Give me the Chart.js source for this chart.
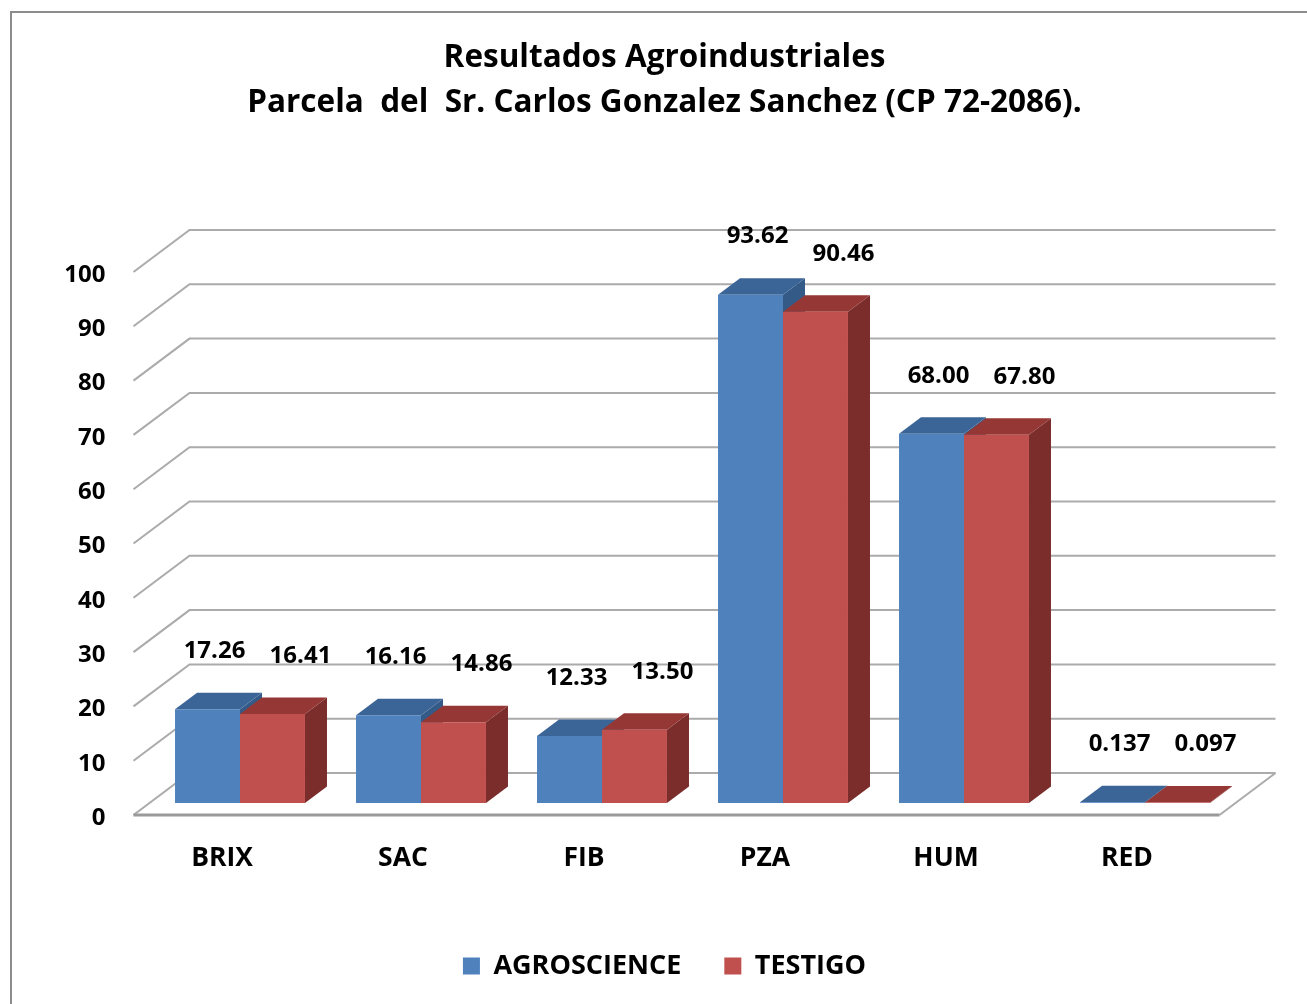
<!DOCTYPE html>
<html><head><meta charset="utf-8">
<script src="https://cdn.jsdelivr.net/npm/chart.js@4"></script>
<style>html,body{margin:0;padding:0;background:#fff;overflow:hidden}canvas{display:block}</style>
</head><body>
<canvas id="c" width="1307" height="1004" style="width:1307px;height:1004px"></canvas>
<script>
const categories = ['BRIX', 'SAC', 'FIB', 'PZA', 'HUM', 'RED'];
const agroscience = [17.26, 16.16, 12.33, 93.62, 68.00, 0.137];
const testigo = [16.41, 14.86, 13.50, 90.46, 67.80, 0.097];
const seriesNames = ['AGROSCIENCE', 'TESTIGO'];
const yTicks = [0, 10, 20, 30, 40, 50, 60, 70, 80, 90, 100];
const titleLines = ['Resultados Agroindustriales', 'Parcela  del  Sr. Carlos Gonzalez Sanchez (CP 72-2086).'];

const FONT = '"Open Sans", Lato, sans-serif';
const BAR_SHIFT = {x: 16, y: -12};
const BAR_DEPTH = {x: 22, y: -16.5};
const WALL = {x: 56, y: -42};
const faceColors = [{top: '#3C6597', side: '#345A88'}, {top: '#953735', side: '#7A2D2B'}];
const labelDx = [7, 28];
const labelRise = 58;

const frame = {
  id: 'frame',
  beforeDraw(chart) {
    const c = chart.ctx;
    c.save();
    c.fillStyle = '#fff';
    c.fillRect(0, 0, chart.width, chart.height);
    c.strokeStyle = '#8c8c8c';
    c.lineWidth = 2;
    c.beginPath();
    c.moveTo(11, chart.height + 5);
    c.lineTo(11, 12);
    c.lineTo(chart.width + 5, 12);
    c.stroke();
    c.restore();
  }
};

const wall3d = {
  id: 'wall3d',
  beforeDatasetsDraw(chart) {
    const ctx = chart.ctx, a = chart.chartArea, y = chart.scales.y;
    ctx.save();
    ctx.strokeStyle = '#ababab';
    ctx.lineWidth = 2;
    y.ticks.forEach(t => {
      const py = y.getPixelForValue(t.value);
      ctx.beginPath();
      ctx.moveTo(a.left, py);
      ctx.lineTo(a.left + WALL.x, py + WALL.y);
      ctx.lineTo(a.right + WALL.x, py + WALL.y);
      ctx.stroke();
    });
    const p0 = y.getPixelForValue(0);
    ctx.beginPath();
    ctx.moveTo(a.right, p0);
    ctx.lineTo(a.right + WALL.x, p0 + WALL.y);
    ctx.stroke();
    ctx.strokeStyle = '#9a9a9a';
    ctx.lineWidth = 3;
    ctx.beginPath();
    ctx.moveTo(a.left, p0);
    ctx.lineTo(a.right, p0);
    ctx.stroke();
    ctx.restore();

    ctx.save();
    ctx.translate(BAR_SHIFT.x, BAR_SHIFT.y);
    chart.data.datasets.forEach((ds, i) => {
      chart.getDatasetMeta(i).data.forEach(bar => {
        const p = bar.getProps(['x', 'y', 'base', 'width'], true);
        const l = p.x - p.width / 2, r = p.x + p.width / 2, top = p.y, base = p.base;
        ctx.fillStyle = faceColors[i].side;
        ctx.beginPath();
        ctx.moveTo(r, top);
        ctx.lineTo(r + BAR_DEPTH.x, top + BAR_DEPTH.y);
        ctx.lineTo(r + BAR_DEPTH.x, base + BAR_DEPTH.y);
        ctx.lineTo(r, base);
        ctx.closePath();
        ctx.fill();
        ctx.fillStyle = faceColors[i].top;
        ctx.beginPath();
        ctx.moveTo(l, top);
        ctx.lineTo(r, top);
        ctx.lineTo(r + BAR_DEPTH.x, top + BAR_DEPTH.y);
        ctx.lineTo(l + BAR_DEPTH.x, top + BAR_DEPTH.y);
        ctx.closePath();
        ctx.fill();
      });
    });
  },
  afterDatasetsDraw(chart) {
    const ctx = chart.ctx;
    ctx.restore();
    ctx.save();
    ctx.font = 'bold 24px ' + FONT;
    ctx.fillStyle = '#000';
    ctx.textAlign = 'center';
    ctx.textBaseline = 'middle';
    chart.data.datasets.forEach((ds, i) => {
      chart.getDatasetMeta(i).data.forEach((bar, j) => {
        const v = ds.data[j];
        const txt = v < 1 ? v.toFixed(3) : v.toFixed(2);
        ctx.fillText(txt, bar.x + BAR_SHIFT.x + labelDx[i], bar.y + BAR_SHIFT.y - labelRise);
      });
    });
    ctx.restore();
  }
};

new Chart(document.getElementById('c'), {
  type: 'bar',
  data: {
    labels: categories,
    datasets: [
      {label: seriesNames[0], data: agroscience, backgroundColor: '#4F81BD', borderWidth: 0},
      {label: seriesNames[1], data: testigo, backgroundColor: '#C0504D', borderWidth: 0}
    ]
  },
  options: {
    responsive: false,
    animation: false,
    devicePixelRatio: 1,
    layout: {padding: {left: 22, right: 0, top: 0, bottom: 14.5}},
    datasets: {bar: {categoryPercentage: 0.718, barPercentage: 1, clip: false}},
    scales: {
      x: {
        grid: {display: false, drawTicks: false},
        border: {display: false},
        ticks: {color: '#000', font: {family: FONT, size: 26.5, weight: 'bold'}, padding: 28, labelOffset: -2},
        afterFit(s) { s.height = 94.5; }
      },
      y: {
        min: 0, max: 100,
        grid: {display: false, drawTicks: false},
        border: {display: false},
        ticks: {color: '#000', font: {family: FONT, size: 24, weight: 'bold'}, padding: 28, labelOffset: 3},
        afterBuildTicks(s) { s.ticks = yTicks.map(v => ({value: v})); },
        afterFit(s) { s.width = 111.5; }
      },
      yRight: {
        type: 'linear', position: 'right', display: true,
        grid: {display: false, drawTicks: false},
        border: {display: false},
        ticks: {display: false},
        afterFit(s) { s.width = 87.5; }
      }
    },
    plugins: {
      title: {
        display: true, text: titleLines, color: '#000',
        font: {family: FONT, size: 31.5, weight: 'bold', lineHeight: 45 / 31.5},
        padding: {top: 36, bottom: 146}
      },
      legend: {
        position: 'bottom',
        labels: {color: '#000', font: {family: FONT, size: 27, weight: 'bold'}, boxWidth: 17, boxHeight: 17, padding: 43}
      },
      tooltip: {enabled: false}
    }
  },
  plugins: [frame, wall3d]
});
</script>
</body></html>
